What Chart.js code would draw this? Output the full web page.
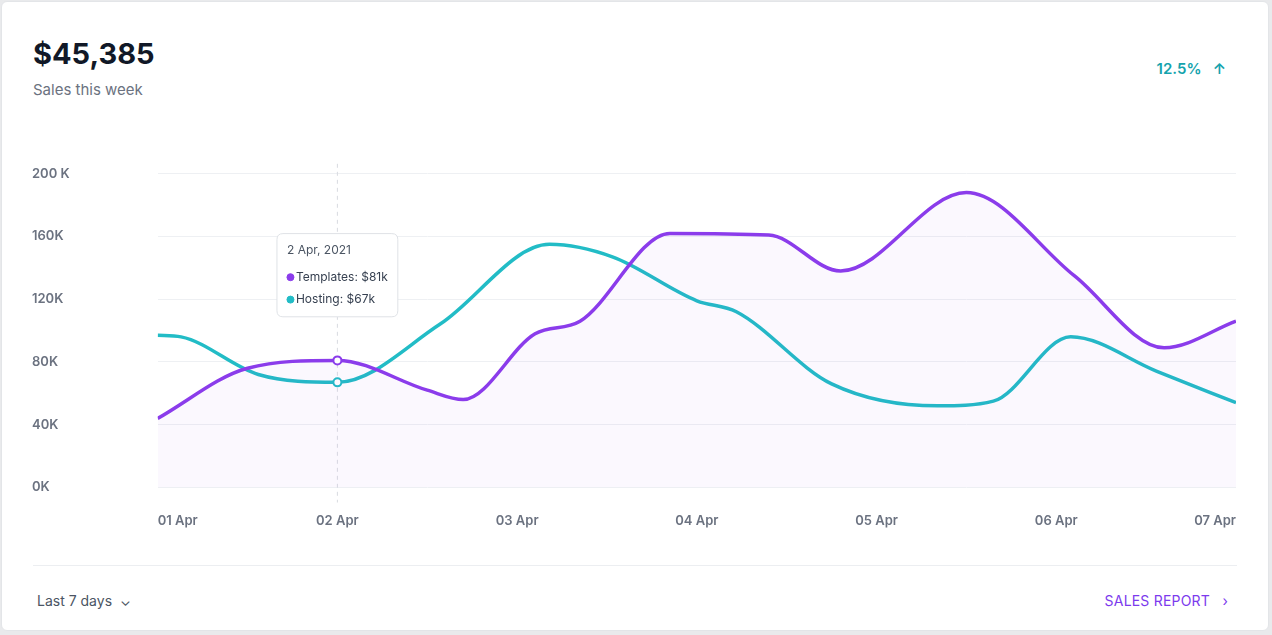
<!DOCTYPE html>
<html lang="en">
<head>
<meta charset="UTF-8">
<title>Sales this week</title>
<script src="https://cdn.jsdelivr.net/npm/chart.js"></script>
<style>
  body { margin: 0; background: #e9eaec; font-family: Inter, "Noto Sans", sans-serif; }
  .card { position: absolute; left: 1px; top: 1px; width: 1268px; height: 630px; background: #fff;
          border: 1px solid #e3e5e8; border-radius: 6px; box-sizing: border-box; }
  .total { position: absolute; left: 31px; top: 34px; font-size: 29px; font-weight: 700; color: #111827; }
  .sub { position: absolute; left: 31px; top: 78px; font-size: 15px; color: #6b7280; }
  .delta { position: absolute; right: 42px; top: 57px; font-size: 15px; font-weight: 600; color: #14a3ad; }
  .chartbox { position: absolute; left: 30px; top: 120px; width: 1222px; height: 425px; }
  .sep { position: absolute; left: 31px; right: 31px; top: 563px; border-top: 1px solid #eceef1; }
  .range { position: absolute; left: 35px; top: 590px; font-size: 14px; color: #4b5563; }
  .report { position: absolute; right: 40px; top: 590px; font-size: 14px; color: #7c3aed; letter-spacing: .2px; }
</style>
</head>
<body>
<div class="card">
  <div class="total">$45,385</div>
  <div class="sub">Sales this week</div>
  <div class="delta">12.5% &nbsp;&nbsp;↑</div>
  <div class="chartbox"><canvas id="salesChart"></canvas></div>
  <div class="sep"></div>
  <div class="range">Last 7 days &nbsp;⌄</div>
  <div class="report">SALES REPORT &nbsp;&nbsp;›</div>
</div>
<script>
  // x = day of April, y = thousands
  var dayLabels = ['01 Apr', '02 Apr', '03 Apr', '04 Apr', '05 Apr', '06 Apr', '07 Apr'];
  var templatesX = [1, 1.5, 2, 2.5, 2.7, 3.1, 3.35, 3.85, 4.4, 4.8, 5.5, 6.1, 6.6, 7];
  var templatesY = [44, 76, 81, 62, 56, 98, 106, 162, 161, 138, 188, 135, 89, 106];
  var hostingX = [1, 1.13, 1.56, 2, 2.57, 3.18, 3.53, 4, 4.22, 4.75, 5.34, 5.65, 6.08, 6.56, 7];
  var hostingY = [97, 96, 72, 67, 104, 155, 147, 119, 112, 66, 52, 55, 96, 74, 54];

  function pts(xs, ys) {
    return xs.map(function (x, i) { return { x: x, y: ys[i] }; });
  }

  Chart.Tooltip.positioners.above = function (items) {
    if (!items.length) return false;
    return { x: items[0].element.x, y: this.chart.chartArea.top + 145 };
  };

  var hoverLine = {
    id: 'hoverLine',
    beforeDatasetsDraw: function (chart) {
      var ctx = chart.ctx, x = chart.scales.x.getPixelForValue(2);
      ctx.save();
      ctx.setLineDash([4, 4]);
      ctx.strokeStyle = '#d8dbe0';
      ctx.beginPath();
      ctx.moveTo(x, chart.chartArea.top - 10);
      ctx.lineTo(x, chart.chartArea.bottom + 15);
      ctx.stroke();
      ctx.restore();
    }
  };

  var ctx = document.getElementById('salesChart').getContext('2d');
  var chart = new Chart(ctx, {
    type: 'line',
    data: {
      datasets: [{
        label: 'Templates',
        data: pts(templatesX, templatesY),
        borderColor: '#8b3ceb',
        backgroundColor: 'rgba(139, 60, 235, 0.035)',
        fill: 'origin',
        borderWidth: 3.5,
        cubicInterpolationMode: 'monotone',
        pointRadius: 0,
        pointHoverRadius: 4,
        pointHoverBackgroundColor: '#fff',
        pointHoverBorderColor: '#8b3ceb',
        pointHoverBorderWidth: 2
      }, {
        label: 'Hosting',
        data: pts(hostingX, hostingY),
        borderColor: '#22bcc6',
        borderWidth: 3.5,
        fill: false,
        cubicInterpolationMode: 'monotone',
        pointRadius: 0,
        pointHoverRadius: 4,
        pointHoverBackgroundColor: '#fff',
        pointHoverBorderColor: '#22bcc6',
        pointHoverBorderWidth: 2
      }]
    },
    options: {
      responsive: true,
      maintainAspectRatio: false,
      animation: false,
      layout: { padding: { right: 6, top: 12 } },
      plugins: {
        legend: { display: false },
        tooltip: {
          position: 'above',
          backgroundColor: '#fff',
          borderColor: '#dfe2e6',
          borderWidth: 1,
          titleColor: '#4b5563',
          bodyColor: '#374151',
          titleFont: { family: 'Inter', size: 12, weight: 'normal' },
          bodyFont: { family: 'Inter', size: 12 },
          titleMarginBottom: 12,
          bodySpacing: 8,
          padding: 10,
          caretSize: 0,
          yAlign: 'bottom',
          xAlign: 'center',
          usePointStyle: true,
          boxWidth: 7,
          boxHeight: 7,
          callbacks: {
            title: function () { return '2 Apr, 2021'; },
            label: function (c) { return c.dataset.label + ': $' + Math.round(c.parsed.y) + 'k'; },
            labelColor: function (c) {
              return { borderColor: c.dataset.borderColor, backgroundColor: c.dataset.borderColor };
            }
          }
        }
      },
      scales: {
        x: {
          type: 'linear',
          min: 1,
          max: 7,
          grid: { display: false },
          border: { display: false },
          ticks: {
            stepSize: 1,
            align: 'inner',
            padding: 18,
            color: '#6b7280',
            font: { family: 'Inter', size: 13, weight: '600' },
            callback: function (v) { return dayLabels[v - 1]; }
          }
        },
        y: {
          min: 0,
          max: 200,
          grid: { color: '#eef0f3', drawTicks: false },
          border: { display: false },
          ticks: {
            stepSize: 40,
            padding: 44,
            crossAlign: 'far',
            color: '#6b7280',
            font: { family: 'Inter', size: 13, weight: '600' },
            callback: function (v) { return v === 200 ? '200 K' : v + 'K'; }
          }
        }
      }
    },
    plugins: [hoverLine]
  });

  var els = [{ datasetIndex: 0, index: 2 }, { datasetIndex: 1, index: 3 }];
  chart.setActiveElements(els);
  chart.tooltip.setActiveElements(els, { x: 0, y: 0 });
  chart.update();
</script>
</body>
</html>
